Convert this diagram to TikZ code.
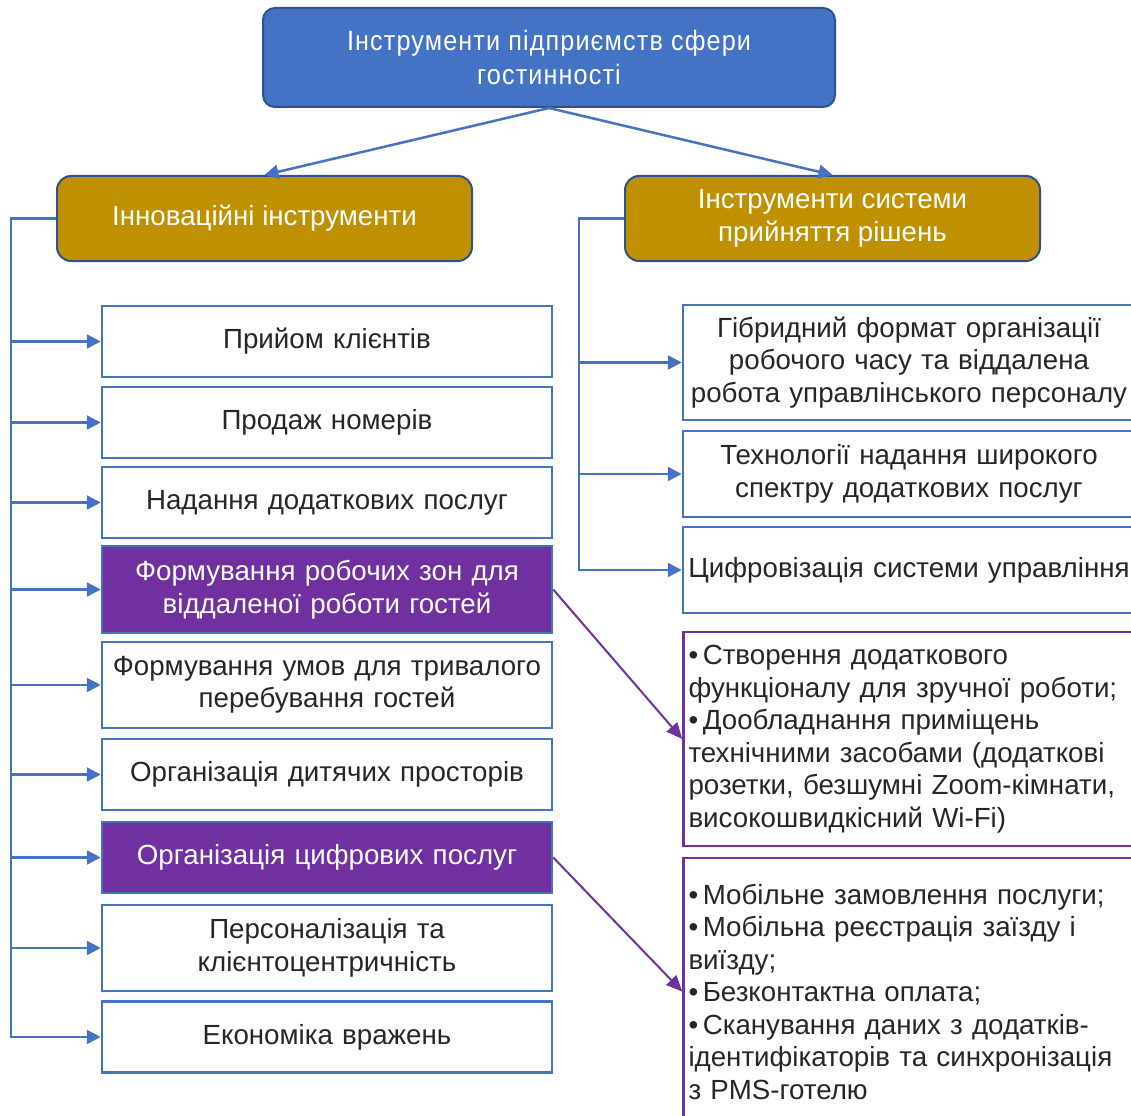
\documentclass[tikz,border=0pt]{standalone}
\usepackage{fontspec}
\setmainfont{Liberation Sans}
\newfontfamily\narrowfont[FakeStretch=0.9,LetterSpace=4]{Liberation Sans}
\usepackage{tikz}
\usetikzlibrary{arrows.meta}

\definecolor{lineblue}{HTML}{4472C4}
\definecolor{darkblue}{HTML}{2F528F}
\definecolor{gold}{HTML}{BF9000}
\definecolor{violet}{HTML}{7030A0}
\definecolor{txt}{HTML}{262626}

\tikzset{
  topbox/.style={draw=darkblue,fill=lineblue,line width=2pt,rounded corners=12pt,text=white,
    minimum width=572pt,minimum height=99pt,align=center,font=\narrowfont\fontsize{28}{34}\selectfont},
  groupbox/.style={draw=darkblue,fill=gold,line width=2pt,rounded corners=14pt,text=white,
    minimum width=415pt,minimum height=85pt,align=center},
  itembox/.style={draw=lineblue,fill=white,line width=2.5pt,text=txt,inner xsep=5pt,
    text width=440pt,align=center,minimum height=71pt},
  hotbox/.style={itembox,fill=violet,text=white},
  sidebox/.style={itembox,inner xsep=2pt,text width=448pt},
  notebox/.style={draw=violet,line width=2.5pt,text=txt,inner xsep=5pt,text width=441pt,align=left},
  link/.style={draw=lineblue,line width=2.5pt,-{Triangle[length=14pt,width=14pt]}},
  hotlink/.style={draw=violet,line width=2pt,-{Triangle[length=16pt,width=14pt]}},
}

\begin{document}
\begin{tikzpicture}[x=1pt,y=-1pt,font=\fontsize{27.7}{32.5}\selectfont]
    \useasboundingbox (0,0) rectangle (1131,1115);

    \node[topbox] (top) at (549,57.5) {Інструменти підприємств сфери\\гостинності};

    \node[groupbox] (innov) at (264.5,218.5) {Інноваційні інструменти};
    \node[groupbox] (decide) at (832.5,218.5) {Інструменти системи\\прийняття рішень};

    % left column
    \node[itembox] (recv) at (327,341.5) {Прийом клієнтів};
    \node[itembox] (sale) at (327,422.5) {Продаж номерів};
    \node[itembox] (extra) at (327,502.5) {Надання додаткових послуг};
    \node[hotbox,minimum height=87pt] (remote) at (327,589.5) {Формування робочих зон для\\віддаленої роботи гостей};
    \node[itembox,minimum height=86pt] (stay) at (327,685) {Формування умов для тривалого\\перебування гостей};
    \node[itembox] (kids) at (327,774.5) {Організація дитячих просторів};
    \node[hotbox] (digital) at (327,857.5) {Організація цифрових послуг};
    \node[itembox,minimum height=86pt] (person) at (327,948) {Персоналізація та\\клієнтоцентричність};
    \node[itembox] (impress) at (327,1037) {Економіка вражень};

    % right column
    \node[sidebox,minimum height=115pt] (hybrid) at (909,362.5) {Гібридний формат організації\\робочого часу та віддалена\\робота управлінського персоналу};
    \node[sidebox,minimum height=86pt] (tech) at (909,474) {Технології надання широкого\\спектру додаткових послуг};
    \node[sidebox,minimum height=86pt] (digit) at (909,570) {Цифровізація системи управління};

    \node[notebox,minimum height=214pt] (note1) at (909,739) {\textbullet\,Створення додаткового функціоналу для зручної роботи;\\\textbullet\,Дообладнання приміщень технічними засобами (додаткові розетки, безшумні Zoom-кімнати, високошвидкісний Wi-Fi)};
    \node[notebox,minimum height=267pt] (note2) at (909,991.5) {\textbullet\,Мобільне замовлення послуги;\\\textbullet\,Мобільна реєстрація заїзду і виїзду;\\\textbullet\,Безконтактна оплата;\\\textbullet\,Сканування даних з додатків-ідентифікаторів та синхронізація з PMS-готелю};

    \draw[link] (top.south) -- (innov.north);
    \draw[link] (top.south) -- (decide.north);

    \foreach \b in {recv,sale,extra,remote,stay,kids,digital,person,impress}
      \draw[link] (innov.west) -- ++(-45,0) |- (\b.west);
    \foreach \b in {hybrid,tech,digit}
      \draw[link] (decide.west) -- ++(-45,0) |- (\b.west);

    \draw[hotlink] (remote.east) -- (note1.west);
    \draw[hotlink] (digital.east) -- (note2.west);

\end{tikzpicture}
\end{document}
